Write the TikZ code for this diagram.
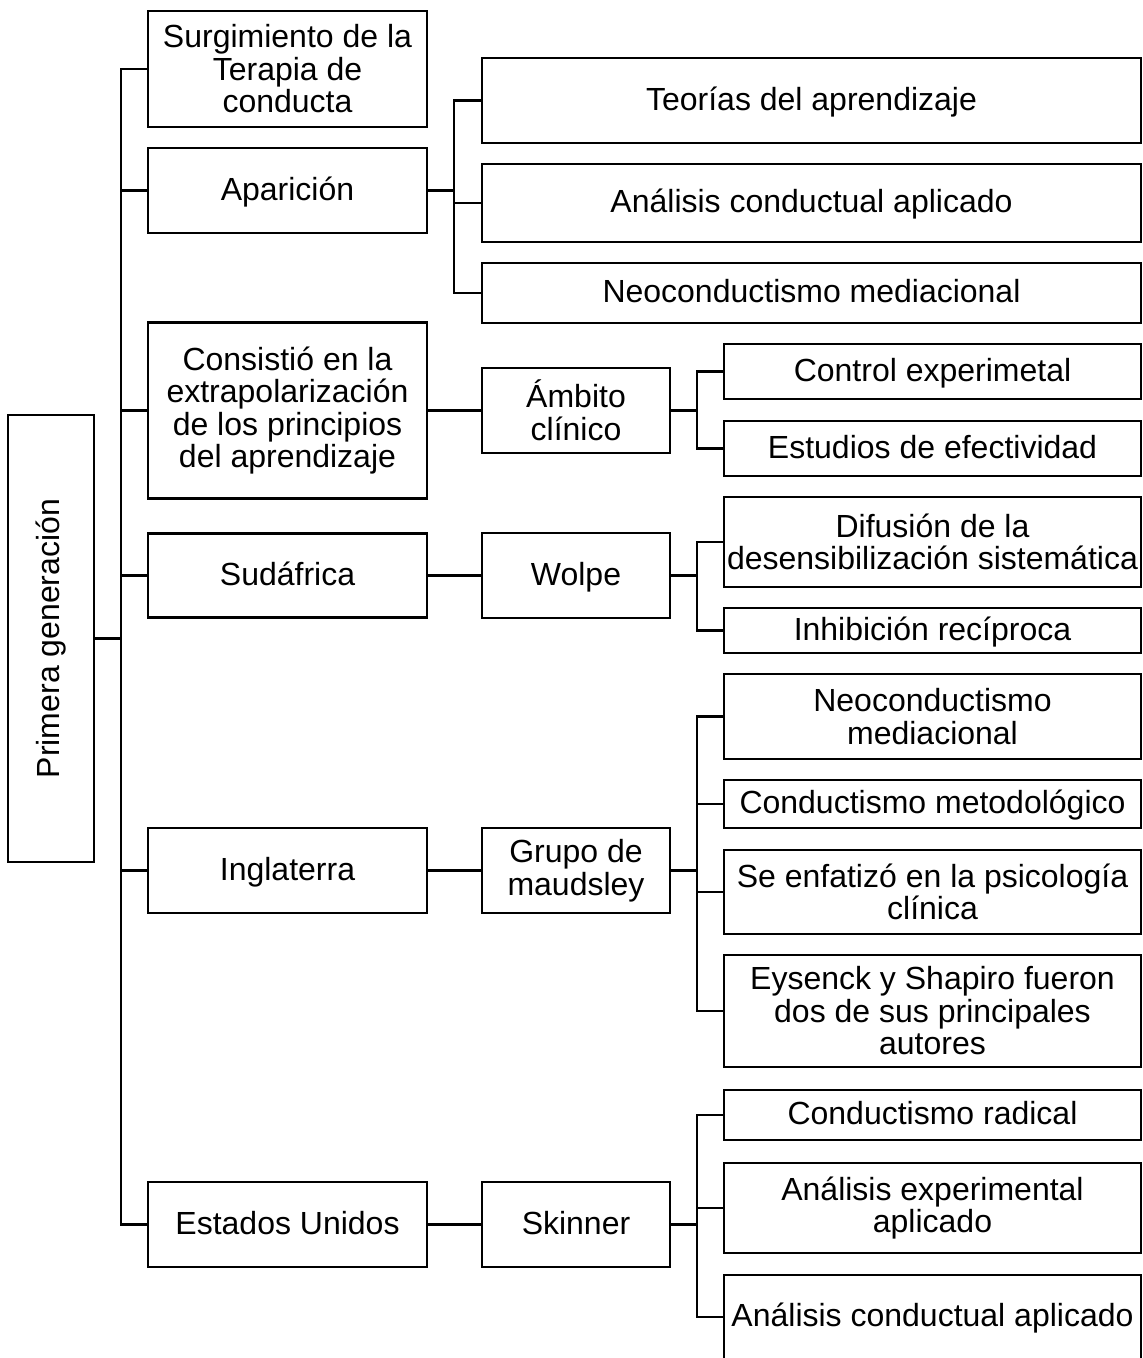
\documentclass[tikz,border=0pt]{standalone}
\usepackage{fontspec}
\setmainfont{Liberation Sans}
\begin{document}
\begin{tikzpicture}[x=1pt,y=-1pt,
  box/.style={draw=black, line width=2.4pt, fill=white, inner sep=0pt,
    align=center, font=\fontsize{32}{32.5}\selectfont},
  oneline/.style={text height=25.6pt, text depth=6.4pt},
  lone/.style={box, minimum width=279pt},
  ltwo/.style={box, minimum width=188pt},
  lthree/.style={box, minimum width=417pt},
  wide/.style={box, minimum width=659pt},
  link/.style={line width=2.4pt}]
\useasboundingbox (0,0) rectangle (1143,1358);

% root
\node[box, minimum width=86pt, minimum height=447pt] (root) at (51,638.5)
  {\rotatebox{90}{Primera generación}};

% first level
\node[lone, minimum height=116pt] (surg) at (287.5,69) {Surgimiento de la\\Terapia de\\conducta};
\node[lone, oneline, minimum height=85pt] (apar) at (287.5,190.5) {Aparición};
\node[lone, minimum height=176pt] (cons) at (287.5,410.5) {Consistió en la\\extrapolarización\\de los principios\\del aprendizaje};
\node[lone, oneline, minimum height=84pt] (suda) at (287.5,575.5) {Sudáfrica};
\node[lone, oneline, minimum height=85pt] (ingl) at (287.5,870.5) {Inglaterra};
\node[lone, oneline, minimum height=85pt] (eeuu) at (287.5,1224.5) {Estados Unidos};

% children of Aparición
\node[wide, oneline, minimum height=85pt] (teo) at (811.5,100.5) {Teorías del aprendizaje};
\node[wide, oneline, minimum height=78pt] (acap) at (811.5,203) {Análisis conductual aplicado};
\node[wide, oneline, minimum height=60pt] (neoa) at (811.5,293) {Neoconductismo mediacional};

% second level
\node[ltwo, minimum height=85pt] (ambito) at (576,410.5) {Ámbito\\clínico};
\node[ltwo, oneline, minimum height=85pt] (wolpe) at (576,575.5) {Wolpe};
\node[ltwo, minimum height=85pt] (grupo) at (576,870.5) {Grupo de\\maudsley};
\node[ltwo, oneline, minimum height=85pt] (skinner) at (576,1224.5) {Skinner};

% third level
\node[lthree, oneline, minimum height=55pt] (control) at (932.5,371.5) {Control experimetal};
\node[lthree, oneline, minimum height=55pt] (estudios) at (932.5,448.5) {Estudios de efectividad};
\node[lthree, minimum height=90pt] (difusion) at (932.5,542) {Difusión de la\\desensibilización sistemática};
\node[lthree, oneline, minimum height=45pt] (inhib) at (932.5,630.5) {Inhibición recíproca};
\node[lthree, minimum height=85pt] (neob) at (932.5,716.5) {Neoconductismo\\mediacional};
\node[lthree, oneline, minimum height=48pt] (conmet) at (932.5,804) {Conductismo metodológico};
\node[lthree, minimum height=84pt] (seenf) at (932.5,892) {Se enfatizó en la psicología\\clínica};
\node[lthree, minimum height=112pt] (eysenck) at (932.5,1011) {Eysenck y Shapiro fueron\\dos de sus principales\\autores};
\node[lthree, oneline, minimum height=50pt] (conrad) at (932.5,1115) {Conductismo radical};
\node[lthree, minimum height=90pt] (anexp) at (932.5,1208) {Análisis experimental\\aplicado};
\node[lthree, oneline, minimum height=84pt] (ancond) at (932.5,1317) {Análisis conductual aplicado};

% trunk from the root
\coordinate (trunk) at (121,0);
\draw[link] (root.east) -- (root.east -| trunk);
\draw[link] (surg.west) -| (trunk |- eeuu.west) -- (eeuu.west);
\foreach \n in {apar,cons,suda,ingl}
  \draw[link] (\n.west) -- (\n.west -| trunk);

% Aparición branch
\coordinate (abus) at (454,0);
\draw[link] (apar.east) -- (apar.east -| abus);
\draw[link] (teo.west) -| (abus |- neoa.west) -- (neoa.west);
\draw[link] (acap.west) -- (acap.west -| abus);

% first to second level
\draw[link] (cons.east) -- (ambito.west);
\draw[link] (suda.east) -- (wolpe.west);
\draw[link] (ingl.east) -- (grupo.west);
\draw[link] (eeuu.east) -- (skinner.west);

% second to third level
\coordinate (cbus) at (697,0);
\draw[link] (ambito.east) -- (ambito.east -| cbus);
\draw[link] (control.west) -| (cbus |- estudios.west) -- (estudios.west);
\draw[link] (wolpe.east) -- (wolpe.east -| cbus);
\draw[link] (difusion.west) -| (cbus |- inhib.west) -- (inhib.west);
\draw[link] (grupo.east) -- (grupo.east -| cbus);
\draw[link] (neob.west) -| (cbus |- eysenck.west) -- (eysenck.west);
\foreach \n in {conmet,seenf}
  \draw[link] (\n.west) -- (\n.west -| cbus);
\draw[link] (skinner.east) -- (skinner.east -| cbus);
\draw[link] (conrad.west) -| (cbus |- ancond.west) -- (ancond.west);
\draw[link] (anexp.west) -- (anexp.west -| cbus);
\end{tikzpicture}
\end{document}
